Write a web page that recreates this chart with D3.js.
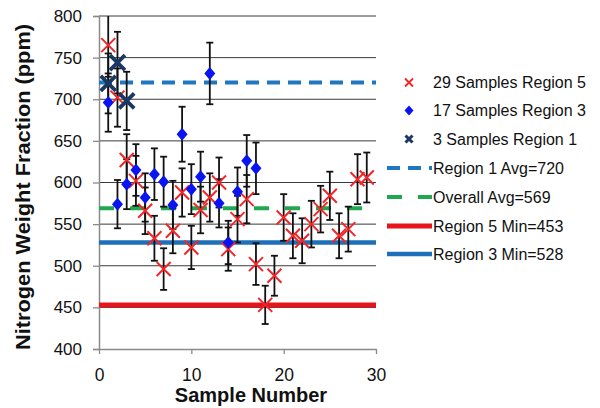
<!DOCTYPE html>
<html><head><meta charset="utf-8">
<script src="https://cdn.jsdelivr.net/npm/d3@7"></script>
<style>html,body{margin:0;padding:0;background:#fff;}svg{display:block;font-family:"Liberation Sans",Arial,sans-serif;}</style>
</head><body>
<svg id="c" width="600" height="408"></svg>
<script>
// ---- data ----
const region5X = [1,2,3,4,5,6,7,8,9,10,11,12,13,14,15,16,17,18,19,20,21,22,23,24,25,26,27,28,29];
const region5 = [765,702,627,602,566,533,496,542,588,522,567,582,600,520,556,580,502,453,488,558,536,530,550,568,584,536,544,604,606];
const region5Err = [38,35,31,30,28,27,25,27,29,26,28,29,30,26,28,29,25,23,24,28,27,27,28,28,29,27,27,30,30];
const region3X = [1,2,3,4,5,6,7,8,9,10,11,12,13,14,15,16,17];
const region3 = [696,574,598,615,582,610,601,573,658,592,607,731,575,528,589,626,617];
const region3Err = [35,29,30,31,29,31,30,29,33,30,30,37,29,26,29,31,31];
const region1X = [1,2,3];
const region1 = [719,744,698];
const region1Err = [36,37,35];
const refValues = [720,569,453,528];
const seriesLabels = ["29 Samples Region 5","17 Samples Region 3","3 Samples Region 1"];
const refLabels = ["Region 1 Avg=720","Overall Avg=569","Region 5 Min=453","Region 3 Min=528"];
const xTicks = [0,10,20,30];
const yTicks = [400,450,500,550,600,650,700,750,800];
const xTitle = "Sample Number";
const yTitle = "Nitrogen Weight Fraction (ppm)";

// ---- styles ----
const refStyles = [
  {color:"#1F77C0", width:4, dash:"13,8"},
  {color:"#1FA84F", width:4, dash:"15,16"},
  {color:"#E8141B", width:5, dash:null},
  {color:"#1C6FB8", width:4.5, dash:null}
];
const RED="#F0262A", BLUE="#0A14F0", NAVY="#1B3763";

const svg = d3.select("#c");
const x = d3.scaleLinear().domain([0,30]).range([99,376]);
const y = d3.scaleLinear().domain([400,800]).range([349,16]);

svg.append("defs").append("clipPath").attr("id","pc")
  .append("rect").attr("x",95).attr("y",16).attr("width",290).attr("height",333);

// gridlines
svg.append("g").selectAll("line").data(yTicks.filter(d=>d>400)).join("line")
  .attr("x1",x(0)).attr("x2",x(30)).attr("y1",d=>y(d)).attr("y2",d=>y(d))
  .attr("stroke","#3a3a3a").attr("stroke-width",1);

// y axis
const yAxis = d3.axisLeft(y).tickValues(yTicks).tickSize(6).tickPadding(11);
const gy = svg.append("g").attr("transform",`translate(${x(0)},0)`).call(yAxis);
gy.select(".domain").attr("stroke","#8a8a8a").attr("stroke-width",1.5);
gy.selectAll(".tick line").attr("stroke","#8a8a8a").attr("stroke-width",1.3);
gy.selectAll(".tick text").attr("font-size",17).attr("fill","#111").attr("font-family","Liberation Sans, Arial, sans-serif");

// x axis
const xAxis = d3.axisBottom(x).tickValues(xTicks).tickSize(5).tickPadding(15).tickSizeOuter(0);
const gx = svg.append("g").attr("transform",`translate(0,${y(400)})`).call(xAxis);
gx.select(".domain").attr("stroke","#8a8a8a").attr("stroke-width",1.5);
gx.selectAll(".tick line").attr("stroke","#8a8a8a").attr("stroke-width",1.3);
gx.selectAll(".tick text").attr("font-size",17.5).attr("fill","#111").attr("font-family","Liberation Sans, Arial, sans-serif");

// titles
svg.append("text").attr("x",251).attr("y",402).attr("text-anchor","middle")
  .attr("font-size",20).attr("font-weight","bold").attr("fill","#111").text(xTitle);
svg.append("text").attr("transform",`translate(30,${187}) rotate(-90)`).attr("text-anchor","middle")
  .attr("font-size",21).attr("font-weight","bold").attr("fill","#111")
  .attr("textLength",326).attr("lengthAdjust","spacingAndGlyphs").text(yTitle);

// reference lines
const plot = svg.append("g").attr("clip-path","url(#pc)");
refValues.forEach((v,i)=>{
  const s = refStyles[i];
  plot.append("line").attr("x1",x(0)).attr("x2",x(30)).attr("y1",y(v)).attr("y2",y(v))
    .attr("stroke",s.color).attr("stroke-width",s.width).attr("stroke-dasharray",s.dash);
});

function errBars(xs, vs, es){
  const g = plot.append("g").attr("stroke","#111").attr("stroke-width",1.8);
  xs.forEach((xv,i)=>{
    const px=x(xv), t=y(vs[i]+es[i]), b=y(vs[i]-es[i]);
    g.append("line").attr("x1",px).attr("x2",px).attr("y1",t).attr("y2",b);
    g.append("line").attr("x1",px-3.5).attr("x2",px+3.5).attr("y1",t).attr("y2",t);
    g.append("line").attr("x1",px-3.5).attr("x2",px+3.5).attr("y1",b).attr("y2",b);
  });
}
errBars(region5X, region5, region5Err);
errBars(region3X, region3, region3Err);
errBars(region1X, region1, region1Err);

const xPath = h => `M${-h},${-h}L${h},${h}M${-h},${h}L${h},${-h}`;
const diamond = (w,h) => `M0,${-h}L${w},0L0,${h}L${-w},0Z`;

plot.append("g").selectAll("path").data(region5).join("path")
  .attr("transform",(d,i)=>`translate(${x(region5X[i])},${y(d)})`)
  .attr("d",xPath(7)).attr("stroke",RED).attr("stroke-width",2).attr("fill","none");
plot.append("g").selectAll("path").data(region3).join("path")
  .attr("transform",(d,i)=>`translate(${x(region3X[i])},${y(d)})`)
  .attr("d",diamond(5.5,6.5)).attr("fill",BLUE);
plot.append("g").selectAll("path").data(region1).join("path")
  .attr("transform",(d,i)=>`translate(${x(region1X[i])},${y(d)})`)
  .attr("d",xPath(7.5)).attr("stroke",NAVY).attr("stroke-width",3.8).attr("fill","none");

// legend
const lg = svg.append("g");
const legY = [82.5,110.5,139,168,197,226,254];
const allLabels = seriesLabels.concat(refLabels);
allLabels.forEach((lab,i)=>{
  lg.append("text").attr("x",433).attr("y",legY[i]).attr("dy","0.36em")
    .attr("font-size",16).attr("fill","#111").text(lab);
});
lg.append("path").attr("transform",`translate(409,${legY[0]})`).attr("d",xPath(4))
  .attr("stroke",RED).attr("stroke-width",1.8).attr("fill","none");
lg.append("path").attr("transform",`translate(409,${legY[1]})`).attr("d",diamond(4.5,5)).attr("fill",BLUE);
lg.append("path").attr("transform",`translate(409,${legY[2]})`).attr("d",xPath(3.5))
  .attr("stroke",NAVY).attr("stroke-width",3).attr("fill","none");
refStyles.forEach((s,i)=>{
  lg.append("line").attr("x1",387).attr("x2",432).attr("y1",legY[3+i]).attr("y2",legY[3+i])
    .attr("stroke",s.color).attr("stroke-width",s.width).attr("stroke-dasharray",s.dash);
});
</script>
</body></html>
